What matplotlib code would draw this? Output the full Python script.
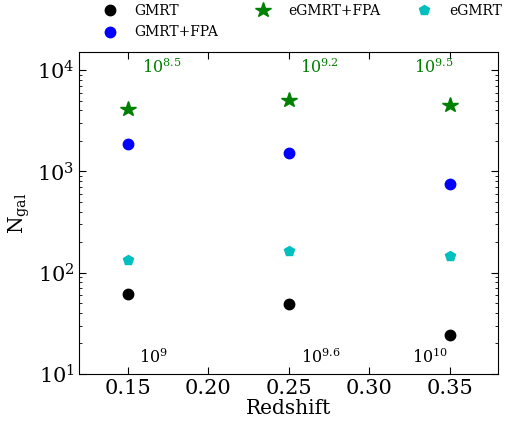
import numpy as np
import matplotlib.pyplot as plt

plt.rcParams["font.family"] = "serif"
plt.rcParams["font.serif"] = ["DejaVu Serif"]
plt.rcParams["mathtext.fontset"] = "dejavuserif"

redshift = [0.15, 0.25, 0.35]
n_gmrt = [61, 49, 24]
n_gmrt_fpa = [1880, 1530, 750]
n_egmrt_fpa = [4150, 5100, 4500]
n_egmrt = [133, 165, 145]

top_labels = [r"$10^{8.5}$", r"$10^{9.2}$", r"$10^{9.5}$"]
top_x = [0.171, 0.269, 0.34]
bottom_labels = [r"$10^{9}$", r"$10^{9.6}$", r"$10^{10}$"]
bottom_x = [0.166, 0.27, 0.338]

fig = plt.figure(figsize=(5.08, 4.22), dpi=100)
ax = fig.add_axes([0.156, 0.114, 0.824, 0.762])

ax.plot(redshift, n_gmrt, "o", color="k", ms=7.5, label="GMRT")
ax.plot(redshift, n_gmrt_fpa, "o", color="b", ms=7.5, label="GMRT+FPA")
ax.plot(redshift, n_egmrt_fpa, "*", color="g", ms=11.5, label="eGMRT+FPA")
ax.plot(redshift, n_egmrt, "p", color="c", ms=7.5, label="eGMRT")

for x, t in zip(top_x, top_labels):
    ax.text(x, 1.07e4, t, color="g", ha="center", va="center", fontsize=11.5)
for x, t in zip(bottom_x, bottom_labels):
    ax.text(x, 14.5, t, color="k", ha="center", va="center", fontsize=11.5)

ax.set_yscale("log")
ax.set_xlim(0.12, 0.38)
ax.set_ylim(10, 1.5e4)
ax.set_xticks([0.15, 0.20, 0.25, 0.30, 0.35])
ax.tick_params(which="both", direction="in", top=True, right=True, labelsize=15)
ax.tick_params(which="major", length=5)
ax.tick_params(which="minor", length=2.5)
ax.set_xlabel("Redshift", fontsize=14.5, labelpad=1)
ax.set_ylabel(r"$\mathrm{N_{gal}}$", fontsize=14.5)

ax.legend(loc="lower center", bbox_to_anchor=(0.525, 1.01), ncol=3, frameon=False,
          fontsize=10, numpoints=1, columnspacing=2.2, handletextpad=0.8,
          borderpad=0.2, labelspacing=0.55)

fig.savefig("out.png", dpi=100)
